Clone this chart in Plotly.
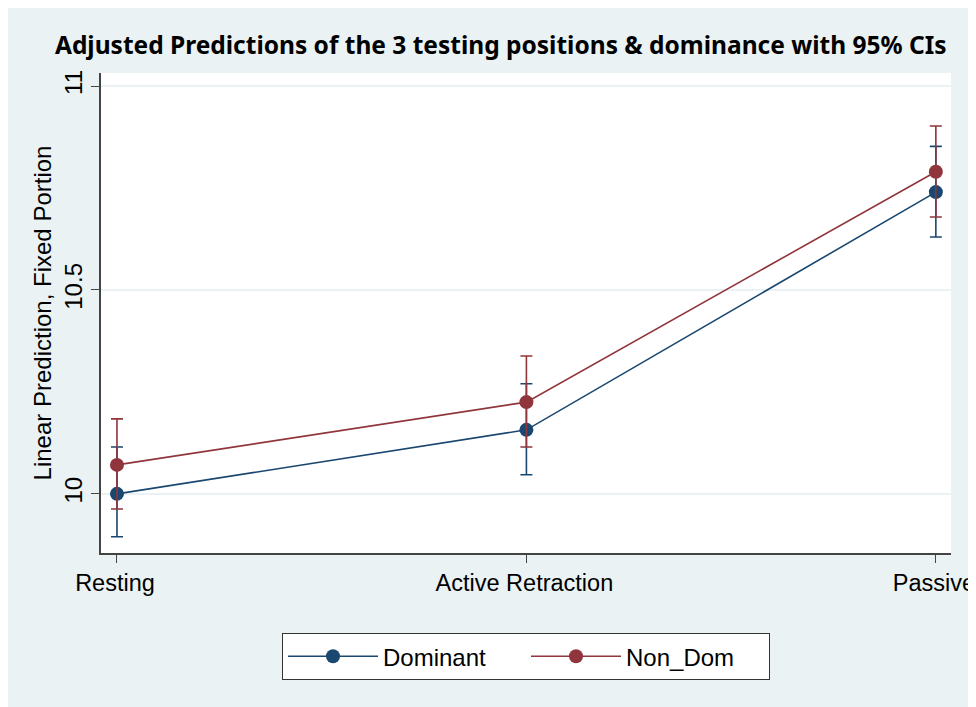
import plotly.graph_objects as go

# Adjusted predictions (margins)
positions = ["Resting", "Active Retraction", "Passive"]

dominant = [10.0, 10.157, 10.74]
dominant_lo = [9.895, 10.047, 10.63]
dominant_hi = [10.115, 10.27, 10.852]

non_dom = [10.071, 10.225, 10.79]
non_dom_lo = [9.963, 10.115, 10.679]
non_dom_hi = [10.184, 10.338, 10.902]

y_ticks = [10, 10.5, 11]

BLUE = "#1a476f"
RED = "#90353b"
BG = "#eaf2f3"


def add_series(fig, name, y, lo, hi, color):
    fig.add_trace(go.Scatter(
        x=positions,
        y=y,
        name=name,
        mode="lines+markers",
        line=dict(color=color, width=1.6),
        marker=dict(color=color, size=14),
        error_y=dict(
            type="data",
            symmetric=False,
            array=[h - v for h, v in zip(hi, y)],
            arrayminus=[v - l for l, v in zip(lo, y)],
            color=color,
            thickness=1.6,
            width=6,
        ),
    ))


fig = go.Figure()
add_series(fig, "Dominant", dominant, dominant_lo, dominant_hi, BLUE)
add_series(fig, "Non_Dom", non_dom, non_dom_lo, non_dom_hi, RED)

fig.update_layout(
    width=968,
    height=699,
    paper_bgcolor=BG,
    plot_bgcolor="white",
    margin=dict(l=93, r=25, t=65, b=154, autoexpand=False),
    font=dict(family="Liberation Sans, Arial, sans-serif", size=24, color="black"),
    title=dict(
        text="<b>Adjusted Predictions of the 3 testing positions & dominance with 95% CIs</b>",
        font=dict(family="Noto Sans, sans-serif", size=24.5, color="black"),
        x=0.509, xref="container", xanchor="center",
        y=0.947, yref="container", yanchor="middle",
    ),
    showlegend=True,
    legend=dict(
        orientation="h",
        x=0.5, xanchor="center",
        y=-0.167, yanchor="top",
        bgcolor="white",
        bordercolor="#333333",
        borderwidth=1,
        font=dict(size=24),
        itemwidth=90,
        entrywidth=138,
    ),
    # white strip along the right edge of the page
    shapes=[
        dict(type="rect", xref="paper", yref="paper",
             x0=1.0235, x1=1.1, y0=-0.4, y1=1.2,
             fillcolor="white", line_width=0, layer="below"),
    ],
)

fig.update_xaxes(
    type="category",
    range=[-0.039, 2.037],
    automargin=False,
    showgrid=False,
    showline=True,
    linecolor="#444444",
    linewidth=1.5,
    ticks="outside",
    ticklen=8,
    tickcolor="#444444",
    tickfont=dict(size=23.5),
    ticklabelshift=-2,
)

fig.update_yaxes(
    range=[9.855, 11.032],
    automargin=False,
    tickvals=y_ticks,
    ticktext=["10", "10.5", "11"],
    tickangle=-90,
    showgrid=True,
    gridcolor=BG,
    gridwidth=1.5,
    zeroline=False,
    showline=True,
    linecolor="#444444",
    linewidth=1.5,
    ticks="outside",
    ticklen=8,
    tickcolor="#444444",
    tickfont=dict(size=24),
    title=dict(text="Linear Prediction, Fixed Portion", font=dict(size=24), standoff=1),
)

fig.write_html("out.html")
